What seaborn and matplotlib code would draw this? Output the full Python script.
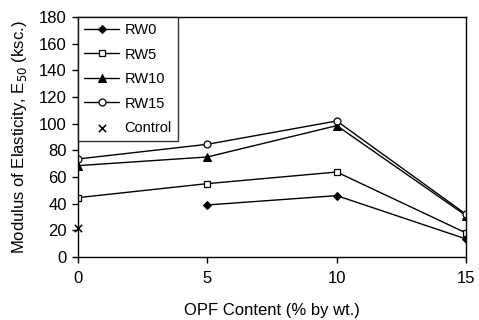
import matplotlib
matplotlib.use("Agg")
import matplotlib.pyplot as plt
import seaborn as sns
import numpy as np

sns.set_theme(style="ticks")
plt.rcParams['font.family'] = ['Liberation Sans', 'DejaVu Sans']
plt.rcParams['text.color'] = 'black'
plt.rcParams['axes.labelcolor'] = 'black'
plt.rcParams['xtick.color'] = 'black'
plt.rcParams['ytick.color'] = 'black'

opf_rw0 = [5, 10, 15]
rw0 = [39, 46, 13.5]
opf = [0, 5, 10, 15]
rw5 = [44.5, 55, 63.7, 18]
rw10 = [68.5, 75, 98.5, 31]
rw15 = [73.5, 84.5, 102, 32]
opf_ctrl = [0]
control = [22]

fig = plt.figure(figsize=(4.79, 3.2), dpi=100)
ax = fig.add_axes([0.163, 0.197, 0.81, 0.75])

lw = 1.0
sns.lineplot(x=opf_rw0, y=rw0, ax=ax, color='black', lw=lw, marker='D', markersize=4.5,
             markerfacecolor='black', markeredgecolor='black', label='RW0')
sns.lineplot(x=opf, y=rw5, ax=ax, color='black', lw=lw, marker='s', markersize=4.5,
             markerfacecolor='white', markeredgecolor='black', markeredgewidth=0.9, label='RW5')
sns.lineplot(x=opf, y=rw10, ax=ax, color='black', lw=lw, marker='^', markersize=6,
             markerfacecolor='black', markeredgecolor='black', label='RW10')
sns.lineplot(x=opf, y=rw15, ax=ax, color='black', lw=lw, marker='o', markersize=5,
             markerfacecolor='white', markeredgecolor='black', markeredgewidth=0.9, label='RW15')
sns.scatterplot(x=opf_ctrl, y=control, ax=ax, color='black', marker='x', s=28,
                linewidth=1.1, label='Control', zorder=5, clip_on=False)

ax.set_xlim(0, 15)
ax.set_ylim(0, 180)
ax.set_xticks([0, 5, 10, 15])
ax.set_yticks(np.arange(0, 181, 20))
ax.tick_params(axis='both', labelsize=12, colors='black', length=4, width=1, direction='out', pad=4)
ax.tick_params(axis='x', pad=6)
for s in ax.spines.values():
    s.set_color('black')
    s.set_linewidth(1)
ax.set_xlabel('OPF Content (% by wt.)', fontsize=12, labelpad=12, color='black')
ax.set_ylabel('Modulus of Elasticity, E$_{50}$ (ksc.)', fontsize=12, labelpad=7, color='black')

leg = ax.legend(loc='upper left', bbox_to_anchor=(0, 1), borderaxespad=0, fontsize=10.5,
                frameon=True, fancybox=False, edgecolor='black', handlelength=2.4,
                handletextpad=0.35, labelspacing=0.72, borderpad=0.42)
leg.get_frame().set_linewidth(1)
for t in leg.get_texts():
    t.set_color('black')

fig.savefig('out.png', dpi=100)
